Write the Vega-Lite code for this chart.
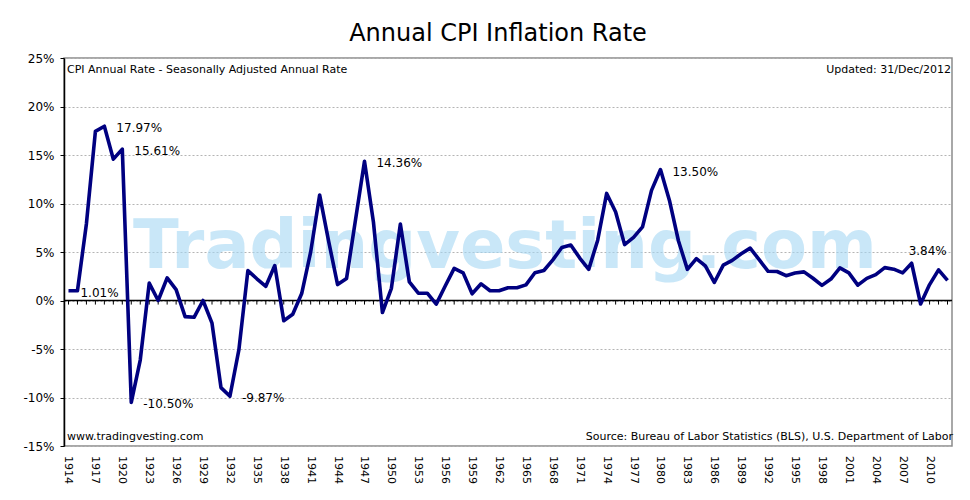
{
  "$schema": "https://vega.github.io/schema/vega-lite/v6.json",
  "width": 888,
  "height": 388,
  "autosize": {"type": "none"},
  "padding": {"left": 64, "top": 58, "right": 18, "bottom": 54},
  "background": "#ffffff",
  "title": {
    "text": "Annual CPI Inflation Rate",
    "font": "DejaVu Sans",
    "fontSize": 24,
    "fontWeight": "normal",
    "color": "#000000",
    "anchor": "middle",
    "baseline": "bottom",
    "dx": -10,
    "dy": 30,
    "offset": 12
  },
  "config": {
    "font": "DejaVu Sans",
    "view": {"stroke": "#8c8c8c", "strokeWidth": 1.5}
  },
  "datasets": {
    "cpi": [
      {"year": 1914, "rate": 1.01}, {"year": 1915, "rate": 1.00}, {"year": 1916, "rate": 7.92},
      {"year": 1917, "rate": 17.44}, {"year": 1918, "rate": 17.97}, {"year": 1919, "rate": 14.57},
      {"year": 1920, "rate": 15.61}, {"year": 1921, "rate": -10.50}, {"year": 1922, "rate": -6.14},
      {"year": 1923, "rate": 1.79}, {"year": 1924, "rate": 0.00}, {"year": 1925, "rate": 2.34},
      {"year": 1926, "rate": 1.12}, {"year": 1927, "rate": -1.66}, {"year": 1928, "rate": -1.73},
      {"year": 1929, "rate": 0.00}, {"year": 1930, "rate": -2.34}, {"year": 1931, "rate": -8.98},
      {"year": 1932, "rate": -9.87}, {"year": 1933, "rate": -5.06}, {"year": 1934, "rate": 3.08},
      {"year": 1935, "rate": 2.24}, {"year": 1936, "rate": 1.46}, {"year": 1937, "rate": 3.60},
      {"year": 1938, "rate": -2.08}, {"year": 1939, "rate": -1.42}, {"year": 1940, "rate": 0.72},
      {"year": 1941, "rate": 5.00}, {"year": 1942, "rate": 10.88}, {"year": 1943, "rate": 6.13},
      {"year": 1944, "rate": 1.64}, {"year": 1945, "rate": 2.27}, {"year": 1946, "rate": 8.33},
      {"year": 1947, "rate": 14.36}, {"year": 1948, "rate": 8.07}, {"year": 1949, "rate": -1.24},
      {"year": 1950, "rate": 1.26}, {"year": 1951, "rate": 7.88}, {"year": 1952, "rate": 1.92},
      {"year": 1953, "rate": 0.75}, {"year": 1954, "rate": 0.75}, {"year": 1955, "rate": -0.37},
      {"year": 1956, "rate": 1.49}, {"year": 1957, "rate": 3.31}, {"year": 1958, "rate": 2.85},
      {"year": 1959, "rate": 0.69}, {"year": 1960, "rate": 1.72}, {"year": 1961, "rate": 1.01},
      {"year": 1962, "rate": 1.00}, {"year": 1963, "rate": 1.32}, {"year": 1964, "rate": 1.31},
      {"year": 1965, "rate": 1.61}, {"year": 1966, "rate": 2.86}, {"year": 1967, "rate": 3.09},
      {"year": 1968, "rate": 4.19}, {"year": 1969, "rate": 5.46}, {"year": 1970, "rate": 5.72},
      {"year": 1971, "rate": 4.38}, {"year": 1972, "rate": 3.21}, {"year": 1973, "rate": 6.22},
      {"year": 1974, "rate": 11.04}, {"year": 1975, "rate": 9.13}, {"year": 1976, "rate": 5.76},
      {"year": 1977, "rate": 6.50}, {"year": 1978, "rate": 7.59}, {"year": 1979, "rate": 11.35},
      {"year": 1980, "rate": 13.50}, {"year": 1981, "rate": 10.32}, {"year": 1982, "rate": 6.16},
      {"year": 1983, "rate": 3.21}, {"year": 1984, "rate": 4.32}, {"year": 1985, "rate": 3.56},
      {"year": 1986, "rate": 1.86}, {"year": 1987, "rate": 3.65}, {"year": 1988, "rate": 4.14},
      {"year": 1989, "rate": 4.82}, {"year": 1990, "rate": 5.40}, {"year": 1991, "rate": 4.21},
      {"year": 1992, "rate": 3.01}, {"year": 1993, "rate": 2.99}, {"year": 1994, "rate": 2.56},
      {"year": 1995, "rate": 2.83}, {"year": 1996, "rate": 2.95}, {"year": 1997, "rate": 2.29},
      {"year": 1998, "rate": 1.56}, {"year": 1999, "rate": 2.21}, {"year": 2000, "rate": 3.36},
      {"year": 2001, "rate": 2.85}, {"year": 2002, "rate": 1.58}, {"year": 2003, "rate": 2.28},
      {"year": 2004, "rate": 2.66}, {"year": 2005, "rate": 3.39}, {"year": 2006, "rate": 3.23},
      {"year": 2007, "rate": 2.85}, {"year": 2008, "rate": 3.84}, {"year": 2009, "rate": -0.36},
      {"year": 2010, "rate": 1.64}, {"year": 2011, "rate": 3.16}, {"year": 2012, "rate": 2.07}
    ],
    "one": [{}]
  },
  "data": {"name": "cpi"},
  "layer": [
    {
      "data": {"name": "one"},
      "mark": {
        "type": "text",
        "text": "Tradingvesting.com",
        "font": "DejaVu Sans",
        "fontSize": 67,
        "fontWeight": "bold",
        "color": "#a6d8f4",
        "opacity": 0.6,
        "align": "center",
        "baseline": "alphabetic"
      },
      "encoding": {
        "x": {"datum": 1962.66, "type": "quantitative"},
        "y": {"datum": 3.35, "type": "quantitative"}
      }
    },
    {
      "mark": {"type": "rule", "color": "#000000", "strokeWidth": 1},
      "encoding": {
        "x": {"field": "year", "type": "quantitative"},
        "y": {"datum": 0, "type": "quantitative"},
        "y2": {"datum": -0.42}
      }
    },
    {
      "data": {"name": "one"},
      "mark": {"type": "rule", "color": "#000000", "strokeWidth": 1.5},
      "encoding": {
        "x": {"datum": 1913.5, "type": "quantitative"},
        "x2": {"datum": 2012.5},
        "y": {"datum": 0, "type": "quantitative"}
      }
    },
    {
      "mark": {"type": "line", "color": "#000080", "strokeWidth": 3.6, "strokeJoin": "round"},
      "encoding": {
        "x": {
          "field": "year",
          "type": "quantitative",
          "scale": {"domain": [1913.5, 2012.5], "nice": false, "zero": false},
          "axis": {
            "title": null,
            "labels": false,
            "ticks": false,
            "domain": false,
            "grid": false
          }
        },
        "y": {
          "field": "rate",
          "type": "quantitative",
          "scale": {"domain": [-15, 25], "nice": false},
          "axis": {
            "title": null,
            "values": [-15, -10, -5, 0, 5, 10, 15, 20, 25],
            "labelExpr": "datum.value + '%'",
            "labelFontSize": 12,
            "labelColor": "#000000",
            "labelPadding": 6,
            "tickSize": 4,
            "tickColor": "#000000",
            "domainColor": "#000000",
            "domainWidth": 1.5,
            "grid": true,
            "gridColor": "#b4b4b4",
            "gridDash": [2, 2],
            "gridWidth": 1
          }
        }
      }
    },
    {
      "transform": [{"filter": "(datum.year - 1914) % 3 == 0 && datum.year <= 2010"}],
      "mark": {"type": "text", "angle": 90, "align": "left", "baseline": "middle", "dx": 10, "fontSize": 11, "color": "#000000", "clip": false},
      "encoding": {
        "x": {"field": "year", "type": "quantitative"},
        "y": {"datum": -15, "type": "quantitative"},
        "text": {"field": "year", "type": "quantitative", "format": "d"}
      }
    },
    {
      "transform": [
        {"filter": "indexof([1914, 1918, 1920, 1921, 1932, 1947, 1980], datum.year) >= 0"},
        {"calculate": "replace(format(datum.rate, '.2f'), '\u2212', '-') + '%'", "as": "label"}
      ],
      "mark": {"type": "text", "align": "left", "baseline": "middle", "dx": 12, "dy": 2, "fontSize": 12, "color": "#000000"},
      "encoding": {
        "x": {"field": "year", "type": "quantitative"},
        "y": {"field": "rate", "type": "quantitative"},
        "text": {"field": "label", "type": "nominal"}
      }
    },
    {
      "transform": [
        {"filter": "datum.year == 2008"},
        {"calculate": "format(datum.rate, '.2f') + '%'", "as": "label"}
      ],
      "mark": {"type": "text", "align": "left", "baseline": "middle", "dx": -3, "dy": -12, "fontSize": 12, "color": "#000000"},
      "encoding": {
        "x": {"field": "year", "type": "quantitative"},
        "y": {"field": "rate", "type": "quantitative"},
        "text": {"field": "label", "type": "nominal"}
      }
    },
    {
      "data": {"name": "one"},
      "mark": {"type": "text", "text": "CPI Annual Rate - Seasonally Adjusted Annual Rate", "align": "left", "baseline": "middle", "dx": 3, "fontSize": 11, "color": "#000000"},
      "encoding": {
        "x": {"datum": 1913.5, "type": "quantitative"},
        "y": {"datum": 23.76, "type": "quantitative"}
      }
    },
    {
      "data": {"name": "one"},
      "mark": {"type": "text", "text": "Updated: 31/Dec/2012", "align": "right", "baseline": "middle", "dx": -1, "fontSize": 11, "color": "#000000"},
      "encoding": {
        "x": {"datum": 2012.5, "type": "quantitative"},
        "y": {"datum": 23.76, "type": "quantitative"}
      }
    },
    {
      "data": {"name": "one"},
      "mark": {"type": "text", "text": "www.tradingvesting.com", "align": "left", "baseline": "middle", "dx": 3, "fontSize": 11, "color": "#000000"},
      "encoding": {
        "x": {"datum": 1913.5, "type": "quantitative"},
        "y": {"datum": -14.07, "type": "quantitative"}
      }
    },
    {
      "data": {"name": "one"},
      "mark": {"type": "text", "text": "Source: Bureau of Labor Statistics (BLS), U.S. Department of Labor", "align": "right", "baseline": "middle", "dx": 1, "fontSize": 11, "color": "#000000"},
      "encoding": {
        "x": {"datum": 2012.5, "type": "quantitative"},
        "y": {"datum": -14.07, "type": "quantitative"}
      }
    }
  ]
}
